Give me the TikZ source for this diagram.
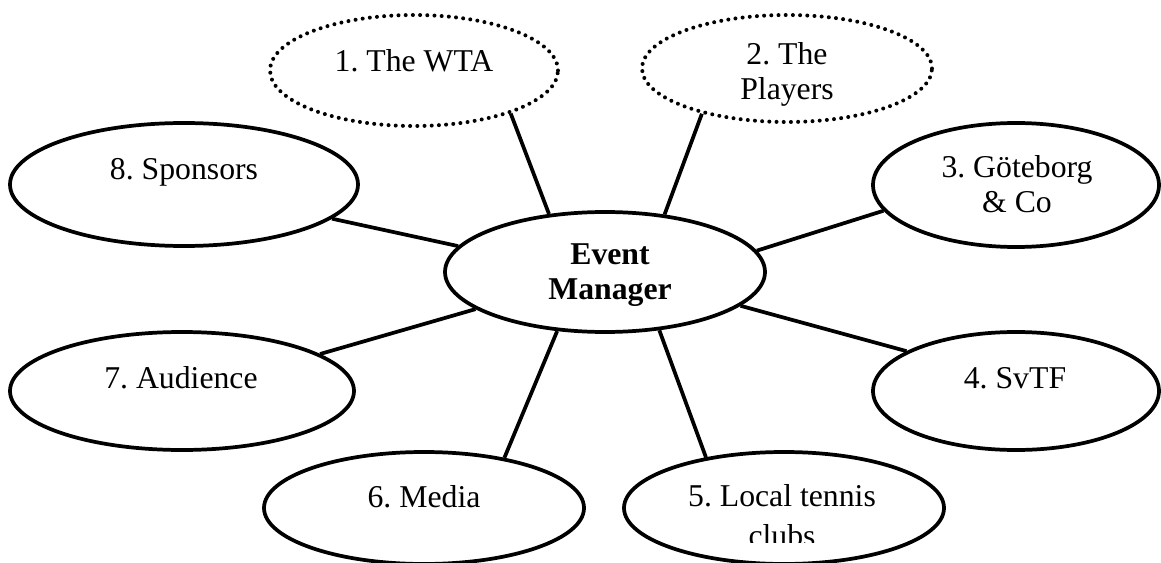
\documentclass[tikz,border=0pt]{standalone}
\usepackage{fontspec}
\setmainfont{Liberation Serif}
\usetikzlibrary{shapes.geometric}
\frenchspacing

\begin{document}
\begin{tikzpicture}[x=0.75pt,y=0.75pt,yscale=-1,xscale=1,
  party/.style={ellipse,draw,line width=2.8pt,fill=white,inner sep=0pt},
  maybe/.style={ellipse,draw,line width=3pt,dash pattern=on 0pt off 5.4pt,line cap=round,fill=white,inner sep=0pt},
  txt/.style={font=\fontsize{23.8pt}{26.3pt}\selectfont,align=center,anchor=base,inner sep=0pt},
  link/.style={line width=2.8pt}]
\useasboundingbox (0,0) rectangle (1161,563);

% Ellipses
\node [party, minimum width=240pt, minimum height=90pt] (mgr) at (605,272) {};
\node [maybe, minimum width=216pt, minimum height=83.25pt] (wta) at (414,70.5) {};
\node [maybe, minimum width=217.5pt, minimum height=80.25pt] (players) at (787,68.5) {};
\node [party, minimum width=214.5pt, minimum height=93pt] (gbg) at (1016,185) {};
\node [party, minimum width=214.5pt, minimum height=88.5pt] (svtf) at (1016,391) {};
\node [party, minimum width=240pt, minimum height=84pt] (clubs) at (784,508) {};
\node [party, minimum width=240pt, minimum height=84pt] (media) at (424,508) {};
\node [party, minimum width=258pt, minimum height=88.5pt] (audience) at (182,391) {};
\node [party, minimum width=261pt, minimum height=92.25pt] (sponsors) at (184,184.5) {};

% Text Node
\node [txt, font=\fontsize{23.8pt}{26.3pt}\selectfont\bfseries] (mgrtext) at (610,300) {Event\\Manager};
% Text Node
\node [txt] (wtatext) at (414,72) {1. The WTA};
% Text Node
\node [txt] (playerstext) at (787,100) {2. The\\Players};
% Text Node
\node [txt] (gbgtext) at (1017,213) {3. Göteborg\\\& Co};
% Text Node
\node [txt] (svtftext) at (1015,388) {4. SvTF};
% Text Node
\begin{scope}
\clip (0,0) rectangle (1161,542);
\node [txt] (clubstext) at (782,546) {5. Local tennis\\[3pt]clubs};
\end{scope}
% Text Node
\node [txt] (mediatext) at (424,507) {6. Media};
% Text Node
\node [txt] (audiencetext) at (181,388) {7. Audience};
% Text Node
\node [txt] (sponsorstext) at (184,180) {8. Sponsors};

% Connection
\draw [link] (mgr.134) -- (wta.-24.3);
% Connection
\draw [link] (mgr.44.1) -- (players.-152.1);
% Connection
\draw [link] (mgr.8.9) -- (gbg.191.8);
% Connection
\draw [link] (mgr.-14.2) -- (svtf.160.8);
% Connection
\draw [link] (mgr.-47) -- (clubs.147.8);
% Connection
\draw [link] (mgr.-129.8) -- (media.32.2);
% Connection
\draw [link] (mgr.-164.4) -- (audience.15.9);
% Connection
\draw [link] (mgr.170.4) -- (sponsors.-13.7);

\end{tikzpicture}
\end{document}
